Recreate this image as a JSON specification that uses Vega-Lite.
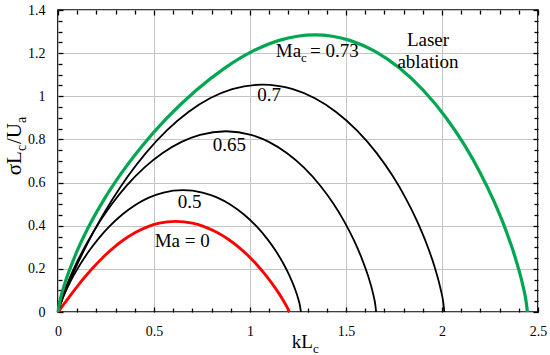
{
  "$schema": "https://vega.github.io/schema/vega-lite/v6.json",
  "width": 480,
  "height": 302,
  "autosize": {"type": "none"},
  "padding": {"left": 58, "top": 10, "right": 12, "bottom": 43},
  "background": "white",
  "config": {
    "view": {"stroke": "black", "strokeWidth": 1.7},
    "axis": {
      "domain": false,
      "labelFont": "Liberation Serif",
      "labelFontSize": 14,
      "labelColor": "black",
      "tickColor": "black",
      "tickWidth": 1.3,
      "gridColor": "#c4c4c4",
      "gridWidth": 1,
      "labelFlush": false,
      "labelOverlap": false
    },
    "text": {"font": "Liberation Serif", "color": "black"}
  },
  "datasets": {
    "curves": [
      {"c": "0", "k": 0, "s": 0},
      {"c": "0", "k": 0.0146, "s": 0.0168},
      {"c": "0", "k": 0.0354, "s": 0.042},
      {"c": "0", "k": 0.0704, "s": 0.084},
      {"c": "0", "k": 0.1068, "s": 0.126},
      {"c": "0", "k": 0.1454, "s": 0.168},
      {"c": "0", "k": 0.187, "s": 0.21},
      {"c": "0", "k": 0.2325, "s": 0.252},
      {"c": "0", "k": 0.2839, "s": 0.294},
      {"c": "0", "k": 0.3446, "s": 0.336},
      {"c": "0", "k": 0.4051, "s": 0.3696},
      {"c": "0", "k": 0.4657, "s": 0.3948},
      {"c": "0", "k": 0.5276, "s": 0.4116},
      {"c": "0", "k": 0.612, "s": 0.42},
      {"c": "0", "k": 0.6999, "s": 0.4116},
      {"c": "0", "k": 0.7642, "s": 0.3948},
      {"c": "0", "k": 0.8268, "s": 0.3696},
      {"c": "0", "k": 0.8886, "s": 0.336},
      {"c": "0", "k": 0.9498, "s": 0.294},
      {"c": "0", "k": 1.0008, "s": 0.252},
      {"c": "0", "k": 1.0451, "s": 0.21},
      {"c": "0", "k": 1.0846, "s": 0.168},
      {"c": "0", "k": 1.1201, "s": 0.126},
      {"c": "0", "k": 1.1522, "s": 0.084},
      {"c": "0", "k": 1.181, "s": 0.042},
      {"c": "0", "k": 1.1963, "s": 0.0168},
      {"c": "0", "k": 1.205, "s": 0},
      {"c": "0.5", "k": 0, "s": 0},
      {"c": "0.5", "k": 0.0069, "s": 0.0226},
      {"c": "0.5", "k": 0.0208, "s": 0.0565},
      {"c": "0.5", "k": 0.049, "s": 0.113},
      {"c": "0.5", "k": 0.0818, "s": 0.1695},
      {"c": "0.5", "k": 0.1192, "s": 0.226},
      {"c": "0.5", "k": 0.1615, "s": 0.2825},
      {"c": "0.5", "k": 0.21, "s": 0.339},
      {"c": "0.5", "k": 0.2665, "s": 0.3955},
      {"c": "0.5", "k": 0.335, "s": 0.452},
      {"c": "0.5", "k": 0.4049, "s": 0.4972},
      {"c": "0.5", "k": 0.4761, "s": 0.5311},
      {"c": "0.5", "k": 0.5495, "s": 0.5537},
      {"c": "0.5", "k": 0.65, "s": 0.565},
      {"c": "0.5", "k": 0.7527, "s": 0.5537},
      {"c": "0.5", "k": 0.8272, "s": 0.5311},
      {"c": "0.5", "k": 0.8989, "s": 0.4972},
      {"c": "0.5", "k": 0.9685, "s": 0.452},
      {"c": "0.5", "k": 1.0356, "s": 0.3955},
      {"c": "0.5", "k": 1.0896, "s": 0.339},
      {"c": "0.5", "k": 1.1347, "s": 0.2825},
      {"c": "0.5", "k": 1.1728, "s": 0.226},
      {"c": "0.5", "k": 1.2051, "s": 0.1695},
      {"c": "0.5", "k": 1.2318, "s": 0.113},
      {"c": "0.5", "k": 1.2526, "s": 0.0565},
      {"c": "0.5", "k": 1.2616, "s": 0.0226},
      {"c": "0.5", "k": 1.265, "s": 0},
      {"c": "0.65", "k": 0, "s": 0},
      {"c": "0.65", "k": 0.0092, "s": 0.0335},
      {"c": "0.65", "k": 0.0281, "s": 0.0838},
      {"c": "0.65", "k": 0.0659, "s": 0.1676},
      {"c": "0.65", "k": 0.1101, "s": 0.2514},
      {"c": "0.65", "k": 0.1604, "s": 0.3352},
      {"c": "0.65", "k": 0.2175, "s": 0.419},
      {"c": "0.65", "k": 0.2827, "s": 0.5028},
      {"c": "0.65", "k": 0.3587, "s": 0.5866},
      {"c": "0.65", "k": 0.4509, "s": 0.6704},
      {"c": "0.65", "k": 0.545, "s": 0.7374},
      {"c": "0.65", "k": 0.6409, "s": 0.7877},
      {"c": "0.65", "k": 0.7397, "s": 0.8212},
      {"c": "0.65", "k": 0.875, "s": 0.838},
      {"c": "0.65", "k": 1.0056, "s": 0.8212},
      {"c": "0.65", "k": 1.1004, "s": 0.7877},
      {"c": "0.65", "k": 1.1915, "s": 0.7374},
      {"c": "0.65", "k": 1.28, "s": 0.6704},
      {"c": "0.65", "k": 1.3653, "s": 0.5866},
      {"c": "0.65", "k": 1.4339, "s": 0.5028},
      {"c": "0.65", "k": 1.4913, "s": 0.419},
      {"c": "0.65", "k": 1.5398, "s": 0.3352},
      {"c": "0.65", "k": 1.5808, "s": 0.2514},
      {"c": "0.65", "k": 1.6148, "s": 0.1676},
      {"c": "0.65", "k": 1.6413, "s": 0.0838},
      {"c": "0.65", "k": 1.6527, "s": 0.0335},
      {"c": "0.65", "k": 1.657, "s": 0},
      {"c": "0.7", "k": 0, "s": 0},
      {"c": "0.7", "k": 0.0156, "s": 0.0422},
      {"c": "0.7", "k": 0.0432, "s": 0.1054},
      {"c": "0.7", "k": 0.0949, "s": 0.2108},
      {"c": "0.7", "k": 0.1526, "s": 0.3162},
      {"c": "0.7", "k": 0.2163, "s": 0.4216},
      {"c": "0.7", "k": 0.2871, "s": 0.527},
      {"c": "0.7", "k": 0.3667, "s": 0.6324},
      {"c": "0.7", "k": 0.4583, "s": 0.7378},
      {"c": "0.7", "k": 0.5682, "s": 0.8432},
      {"c": "0.7", "k": 0.6793, "s": 0.9275},
      {"c": "0.7", "k": 0.7917, "s": 0.9908},
      {"c": "0.7", "k": 0.9072, "s": 1.0329},
      {"c": "0.7", "k": 1.065, "s": 1.054},
      {"c": "0.7", "k": 1.2232, "s": 1.0329},
      {"c": "0.7", "k": 1.3379, "s": 0.9908},
      {"c": "0.7", "k": 1.4483, "s": 0.9275},
      {"c": "0.7", "k": 1.5555, "s": 0.8432},
      {"c": "0.7", "k": 1.6588, "s": 0.7378},
      {"c": "0.7", "k": 1.7419, "s": 0.6324},
      {"c": "0.7", "k": 1.8113, "s": 0.527},
      {"c": "0.7", "k": 1.8701, "s": 0.4216},
      {"c": "0.7", "k": 1.9197, "s": 0.3162},
      {"c": "0.7", "k": 1.9609, "s": 0.2108},
      {"c": "0.7", "k": 1.993, "s": 0.1054},
      {"c": "0.7", "k": 2.0068, "s": 0.0422},
      {"c": "0.7", "k": 2.012, "s": 0},
      {"c": "0.73", "k": 0, "s": 0},
      {"c": "0.73", "k": 0.0102, "s": 0.0514},
      {"c": "0.73", "k": 0.0342, "s": 0.1285},
      {"c": "0.73", "k": 0.0873, "s": 0.257},
      {"c": "0.73", "k": 0.1541, "s": 0.3855},
      {"c": "0.73", "k": 0.2346, "s": 0.514},
      {"c": "0.73", "k": 0.3292, "s": 0.6425},
      {"c": "0.73", "k": 0.4394, "s": 0.771},
      {"c": "0.73", "k": 0.5678, "s": 0.8995},
      {"c": "0.73", "k": 0.7199, "s": 1.028},
      {"c": "0.73", "k": 0.8683, "s": 1.1308},
      {"c": "0.73", "k": 1.0117, "s": 1.2079},
      {"c": "0.73", "k": 1.1521, "s": 1.2593},
      {"c": "0.73", "k": 1.338, "s": 1.285},
      {"c": "0.73", "k": 1.5196, "s": 1.2593},
      {"c": "0.73", "k": 1.6514, "s": 1.2079},
      {"c": "0.73", "k": 1.7786, "s": 1.1308},
      {"c": "0.73", "k": 1.9024, "s": 1.028},
      {"c": "0.73", "k": 2.0222, "s": 0.8995},
      {"c": "0.73", "k": 2.1191, "s": 0.771},
      {"c": "0.73", "k": 2.2007, "s": 0.6425},
      {"c": "0.73", "k": 2.2704, "s": 0.514},
      {"c": "0.73", "k": 2.3299, "s": 0.3855},
      {"c": "0.73", "k": 2.3798, "s": 0.257},
      {"c": "0.73", "k": 2.4198, "s": 0.1285},
      {"c": "0.73", "k": 2.4377, "s": 0.0514},
      {"c": "0.73", "k": 2.445, "s": 0}
    ]
  },
  "layer": [
    {
      "data": {"name": "curves"},
      "transform": [{"filter": "datum.c == '0'"}],
      "mark": {"type": "line", "color": "#ff0000", "strokeWidth": 2.8, "interpolate": "monotone"},
      "encoding": {
        "x": {"field": "k", "type": "quantitative", "scale": {"domain": [0, 2.5], "nice": false, "zero": false},
          "axis": {"orient": "bottom", "values": [0, 0.5, 1, 1.5, 2, 2.5], "format": "~g", "grid": true, "tickSize": -5, "labelPadding": 17, "title": null}},
        "y": {"field": "s", "type": "quantitative", "scale": {"domain": [0, 1.4], "nice": false, "zero": false},
          "axis": {"orient": "left", "values": [0, 0.2, 0.4, 0.6, 0.8, 1, 1.2, 1.4], "format": "~g", "grid": true, "tickSize": -5, "labelPadding": 18, "title": null}}
      }
    },
    {
      "data": {"name": "curves"},
      "transform": [{"filter": "datum.c == '0.5' || datum.c == '0.65' || datum.c == '0.7'"}],
      "mark": {"type": "line", "color": "black", "strokeWidth": 1.8, "interpolate": "monotone"},
      "encoding": {
        "detail": {"field": "c"},
        "x": {"field": "k", "type": "quantitative", "scale": {"domain": [0, 2.5], "nice": false, "zero": false},
          "axis": {"orient": "bottom", "values": [0.1, 0.2, 0.3, 0.4, 0.6, 0.7, 0.8, 0.9, 1.1, 1.2, 1.3, 1.4, 1.6, 1.7, 1.8, 1.9, 2.1, 2.2, 2.3, 2.4], "labels": false, "grid": false, "tickSize": -4, "title": null}},
        "y": {"field": "s", "type": "quantitative", "scale": {"domain": [0, 1.4], "nice": false, "zero": false},
          "axis": {"orient": "left", "values": [0.05, 0.1, 0.15, 0.25, 0.3, 0.35, 0.45, 0.5, 0.55, 0.65, 0.7, 0.75, 0.85, 0.9, 0.95, 1.05, 1.1, 1.15, 1.25, 1.3, 1.35], "labels": false, "grid": false, "tickSize": -4, "title": null}}
      }
    },
    {
      "data": {"name": "curves"},
      "transform": [{"filter": "datum.c == '0.73'"}],
      "mark": {"type": "line", "color": "#00a650", "strokeWidth": 3.2, "interpolate": "monotone"},
      "encoding": {
        "x": {"field": "k", "type": "quantitative", "scale": {"domain": [0, 2.5], "nice": false, "zero": false},
          "axis": {"orient": "top", "values": [0, 0.5, 1, 1.5, 2, 2.5], "labels": false, "grid": false, "tickSize": -5, "title": null}},
        "y": {"field": "s", "type": "quantitative", "scale": {"domain": [0, 1.4], "nice": false, "zero": false},
          "axis": {"orient": "right", "values": [0, 0.2, 0.4, 0.6, 0.8, 1, 1.2, 1.4], "labels": false, "grid": false, "tickSize": -5, "title": null}}
      }
    },
    {
      "data": {"values": [
        {"t": "Ma = 0", "k": 0.647, "s": 0.303},
        {"t": "0.5", "k": 0.686, "s": 0.484},
        {"t": "0.65", "k": 0.893, "s": 0.746},
        {"t": "0.7", "k": 1.099, "s": 0.978},
        {"t": "Laser", "k": 1.927, "s": 1.234},
        {"t": "ablation", "k": 1.927, "s": 1.133}
      ]},
      "mark": {"type": "text", "fontSize": 19, "align": "center", "baseline": "alphabetic"},
      "encoding": {
        "text": {"field": "t"},
        "x": {"field": "k", "type": "quantitative", "scale": {"domain": [0, 2.5], "nice": false, "zero": false},
          "axis": {"orient": "top", "values": [0.1, 0.2, 0.3, 0.4, 0.6, 0.7, 0.8, 0.9, 1.1, 1.2, 1.3, 1.4, 1.6, 1.7, 1.8, 1.9, 2.1, 2.2, 2.3, 2.4], "labels": false, "grid": false, "tickSize": -4, "title": null}},
        "y": {"field": "s", "type": "quantitative", "scale": {"domain": [0, 1.4], "nice": false, "zero": false},
          "axis": {"orient": "right", "values": [0.05, 0.1, 0.15, 0.25, 0.3, 0.35, 0.45, 0.5, 0.55, 0.65, 0.7, 0.75, 0.85, 0.9, 0.95, 1.05, 1.1, 1.15, 1.25, 1.3, 1.35], "labels": false, "grid": false, "tickSize": -4, "title": null}}
      }
    },
    {
      "data": {"values": [
        {"t": "Ma", "k": 1.266, "s": 1.184},
        {"t": "kL", "k": 1.328, "s": -0.167}
      ]},
      "mark": {"type": "text", "fontSize": 19, "align": "right", "baseline": "alphabetic"},
      "encoding": {
        "text": {"field": "t"},
        "x": {"field": "k", "type": "quantitative", "scale": {"domain": [0, 2.5], "nice": false, "zero": false}, "axis": null},
        "y": {"field": "s", "type": "quantitative", "scale": {"domain": [0, 1.4], "nice": false, "zero": false}, "axis": null}
      }
    },
    {
      "data": {"values": [
        {"t": "c", "k": 1.266, "s": 1.184},
        {"t": "c", "k": 1.328, "s": -0.167}
      ]},
      "mark": {"type": "text", "fontSize": 13, "align": "left", "baseline": "alphabetic", "dy": 5},
      "encoding": {
        "text": {"field": "t"},
        "x": {"field": "k", "type": "quantitative", "scale": {"domain": [0, 2.5], "nice": false, "zero": false}, "axis": null},
        "y": {"field": "s", "type": "quantitative", "scale": {"domain": [0, 1.4], "nice": false, "zero": false}, "axis": null}
      }
    },
    {
      "data": {"values": [
        {"t": "= 0.73", "k": 1.266, "s": 1.184}
      ]},
      "mark": {"type": "text", "fontSize": 19, "align": "left", "baseline": "alphabetic", "dx": 9},
      "encoding": {
        "text": {"field": "t"},
        "x": {"field": "k", "type": "quantitative", "scale": {"domain": [0, 2.5], "nice": false, "zero": false}, "axis": null},
        "y": {"field": "s", "type": "quantitative", "scale": {"domain": [0, 1.4], "nice": false, "zero": false}, "axis": null}
      }
    },
    {
      "data": {"values": [
        {"t": "σL", "k": -0.195, "s": 0.746}
      ]},
      "mark": {"type": "text", "fontSize": 21, "align": "right", "baseline": "alphabetic", "angle": 270},
      "encoding": {
        "text": {"field": "t"},
        "x": {"field": "k", "type": "quantitative", "scale": {"domain": [0, 2.5], "nice": false, "zero": false}, "axis": null},
        "y": {"field": "s", "type": "quantitative", "scale": {"domain": [0, 1.4], "nice": false, "zero": false}, "axis": null}
      }
    },
    {
      "data": {"values": [
        {"t": "c", "k": -0.195, "s": 0.746}
      ]},
      "mark": {"type": "text", "fontSize": 14, "align": "left", "baseline": "alphabetic", "angle": 270, "dy": 5},
      "encoding": {
        "text": {"field": "t"},
        "x": {"field": "k", "type": "quantitative", "scale": {"domain": [0, 2.5], "nice": false, "zero": false}, "axis": null},
        "y": {"field": "s", "type": "quantitative", "scale": {"domain": [0, 1.4], "nice": false, "zero": false}, "axis": null}
      }
    },
    {
      "data": {"values": [
        {"t": "/U", "k": -0.195, "s": 0.746}
      ]},
      "mark": {"type": "text", "fontSize": 21, "align": "left", "baseline": "alphabetic", "angle": 270, "dx": 7},
      "encoding": {
        "text": {"field": "t"},
        "x": {"field": "k", "type": "quantitative", "scale": {"domain": [0, 2.5], "nice": false, "zero": false}, "axis": null},
        "y": {"field": "s", "type": "quantitative", "scale": {"domain": [0, 1.4], "nice": false, "zero": false}, "axis": null}
      }
    },
    {
      "data": {"values": [
        {"t": "a", "k": -0.195, "s": 0.746}
      ]},
      "mark": {"type": "text", "fontSize": 14, "align": "left", "baseline": "alphabetic", "angle": 270, "dx": 28, "dy": 5},
      "encoding": {
        "text": {"field": "t"},
        "x": {"field": "k", "type": "quantitative", "scale": {"domain": [0, 2.5], "nice": false, "zero": false}, "axis": null},
        "y": {"field": "s", "type": "quantitative", "scale": {"domain": [0, 1.4], "nice": false, "zero": false}, "axis": null}
      }
    }
  ],
  "resolve": {"axis": {"x": "independent", "y": "independent"}}
}
